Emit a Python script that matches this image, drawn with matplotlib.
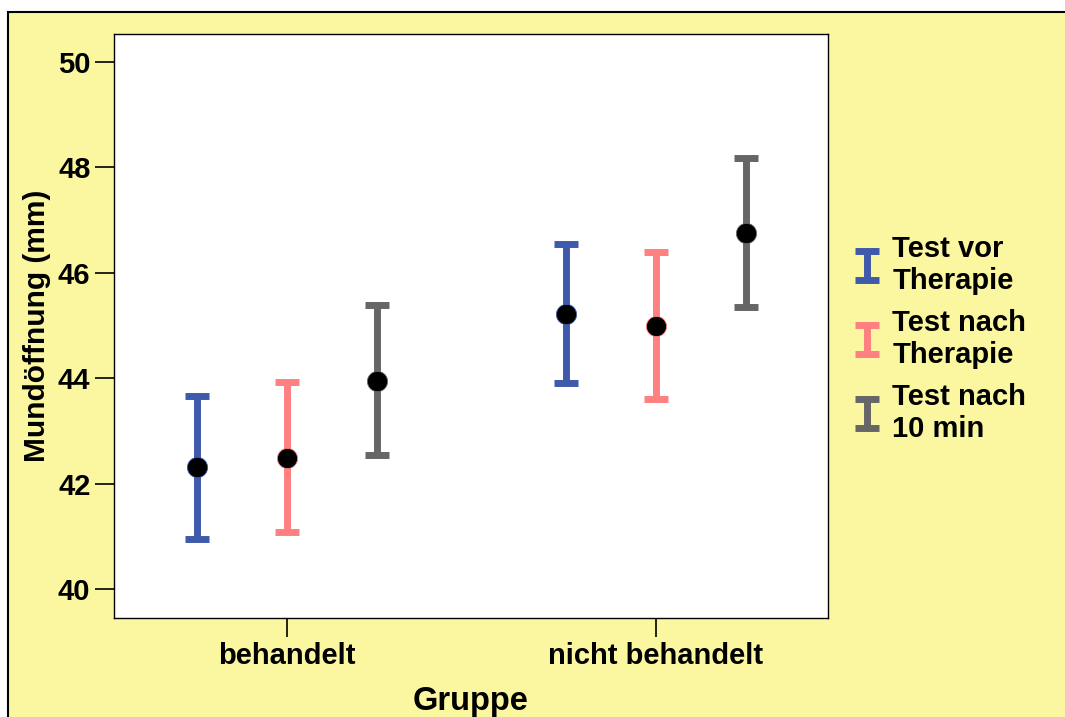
import numpy as np
import matplotlib.pyplot as plt
from matplotlib.patches import Rectangle
from matplotlib.container import ErrorbarContainer
from matplotlib.legend_handler import HandlerErrorbar

# group means and error bar limits (mm)
groups = ['behandelt', 'nicht behandelt']
series = ['Test vor\nTherapie', 'Test nach\nTherapie', 'Test nach\n10 min']
colors = ['#3F5AAA', '#FF8080', '#666666']
means = [[42.31, 45.22], [42.49, 44.99], [43.95, 46.76]]
upper = [[43.66, 46.55], [43.93, 46.39], [45.39, 48.18]]
lower = [[40.95, 43.91], [41.08, 43.61], [42.54, 45.35]]

plt.rcParams['font.family'] = ['Liberation Sans', 'DejaVu Sans']
plt.rcParams['font.weight'] = 'bold'

fig = plt.figure(figsize=(10.65, 7.17), dpi=100, facecolor='white')
bg = Rectangle((8 / 1065, -0.2), 1.2, 0.2 + (717 - 12) / 717,
               transform=fig.transFigure, facecolor='#FAF7A0',
               edgecolor='black', linewidth=1.5, zorder=0)
fig.add_artist(bg)

ax = fig.add_axes([114 / 1065, 99 / 717, 714 / 1065, 584 / 717])
ax.set_facecolor('white')

x = np.arange(len(groups))
offset = 0.245
for i, name in enumerate(series):
    xs = x + (i - 1) * offset
    m = np.array(means[i])
    err = [m - np.array(lower[i]), np.array(upper[i]) - m]
    ax.errorbar(xs, m, yerr=err, fmt='none', ecolor=colors[i],
                elinewidth=5, capsize=8.5, capthick=5, label=name, zorder=2)
    ax.plot(xs, m, 'o', color='black', markersize=14.5,
            markeredgecolor=colors[i], markeredgewidth=0.6, zorder=3)

ax.set_xlim(-0.469, 1.466)
ax.set_ylim(39.45, 50.53)
ax.set_yticks([40, 42, 44, 46, 48, 50])
ax.set_xticks(x)
ax.set_xticklabels(groups)
ax.tick_params(axis='both', direction='out', length=14, width=1.2,
               labelsize=21, pad=3)
for sp in ax.spines.values():
    sp.set_linewidth(1.0)

ax.set_xlabel('Gruppe', fontsize=23.5, fontweight='bold', labelpad=12)
ax.set_ylabel('Mundöffnung (mm)', fontsize=21.5, fontweight='bold', labelpad=5)

leg = ax.legend(loc='center left', bbox_to_anchor=(831 / 1065, (717 - 339) / 717),
                bbox_transform=fig.transFigure, frameon=False,
                prop={'size': 21, 'weight': 'bold'}, handlelength=0.7,
                handletextpad=0.5, labelspacing=0.5,
                handler_map={ErrorbarContainer: HandlerErrorbar(xerr_size=0.5, yerr_size=0.5)})
for t in leg.get_texts():
    t.set_linespacing(1.15)

fig.savefig('out.png', dpi=100, facecolor=fig.get_facecolor())
